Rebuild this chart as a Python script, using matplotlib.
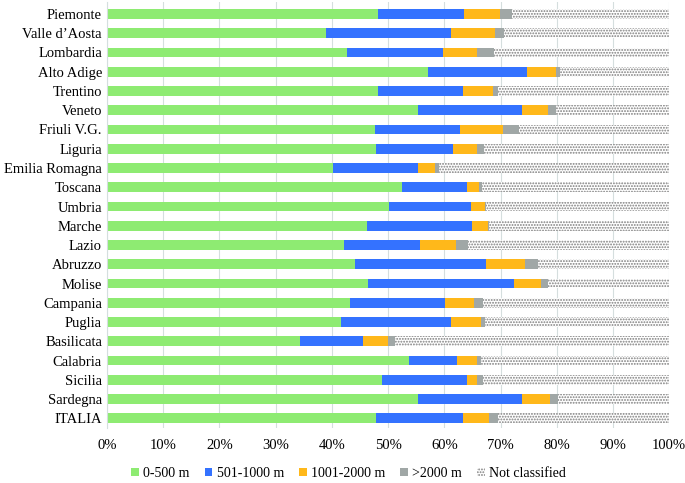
import numpy as np
import matplotlib
matplotlib.use("Agg")
from matplotlib import pyplot as plt

# regions, top to bottom
regions = ["Piemonte", "Valle d\u2019Aosta", "Lombardia", "Alto Adige", "Trentino",
           "Veneto", "Friuli V.G.", "Liguria", "Emilia Romagna", "Toscana", "Umbria",
           "Marche", "Lazio", "Abruzzo", "Molise", "Campania", "Puglia", "Basilicata",
           "Calabria", "Sicilia", "Sardegna", "ITALIA"]

# share (%) of each altitude class
alt_0_500 = [48.2, 38.9, 42.7, 57.1, 48.2, 55.4, 47.7, 47.9, 40.2, 52.4, 50.2,
             46.2, 42.1, 44.1, 46.5, 43.3, 41.7, 34.3, 53.7, 48.9, 55.3, 47.9]
alt_501_1000 = [15.3, 22.3, 17.1, 17.6, 15.1, 18.4, 15.1, 13.7, 15.1, 11.7, 14.5,
                18.8, 13.6, 23.4, 25.9, 16.9, 19.5, 11.3, 8.6, 15.1, 18.5, 15.5]
alt_1001_2000 = [6.4, 7.8, 6.0, 5.1, 5.3, 4.7, 7.6, 4.3, 3.0, 2.0, 2.5,
                 2.8, 6.3, 6.8, 4.8, 5.0, 5.4, 4.4, 3.5, 1.8, 5.0, 4.6]
alt_2000 = [2.2, 1.7, 3.1, 0.7, 1.0, 1.4, 2.9, 1.1, 0.7, 0.6, 0.2,
            0.1, 2.3, 2.4, 1.2, 1.6, 0.6, 1.2, 0.7, 1.1, 1.5, 1.6]
not_classified = list(100 - np.sum([alt_0_500, alt_501_1000, alt_1001_2000, alt_2000], axis=0))

series = [("0-500 m", alt_0_500, "#8eeb72", None),
          ("501-1000 m", alt_501_1000, "#3472ff", None),
          ("1001-2000 m", alt_1001_2000, "#ffb81a", None),
          (">2000 m", alt_2000, "#a0a7a6", None),
          ("Not classified", not_classified, "white", "......")]

plt.rcParams['font.family'] = ['Liberation Serif', 'DejaVu Serif']
plt.rcParams['hatch.color'] = '#7d7d7d'
plt.rcParams['hatch.linewidth'] = 0.9

fig = plt.figure(figsize=(6.85, 4.83), dpi=100)
ax = fig.add_axes([0.156, 0.114, 0.821, 0.881])

y = np.arange(len(regions))
left = np.zeros(len(regions))
for label, vals, color, hatch in series:
    vals = np.array(vals)
    ax.barh(y, vals, height=0.5, left=left, color=color, hatch=hatch,
            linewidth=0, label=label)
    left += vals

ax.set_yticks(y, regions)
ax.set_ylim(len(regions) - 0.5, -0.6)
ax.set_xlim(0, 100)
ax.set_xticks(np.arange(0, 101, 10), [f"{v}%" for v in range(0, 101, 10)])
ax.tick_params(axis='both', length=0, labelsize=10.5, colors='black')
ax.tick_params(axis='x', pad=8)
ax.grid(axis='x', color='#d5dede', linewidth=0.8)
ax.set_axisbelow(True)
for s in ['top', 'right', 'bottom']:
    ax.spines[s].set_visible(False)
ax.spines['left'].set_color('#d5dede')

fig.legend(*ax.get_legend_handles_labels(), loc='center', bbox_to_anchor=(0.509, 0.02),
           ncol=5, frameon=False, fontsize=10, handlelength=0.55, handleheight=0.55,
           handletextpad=0.3, columnspacing=1.1, borderpad=0.1)

fig.savefig("out.png", dpi=100)
